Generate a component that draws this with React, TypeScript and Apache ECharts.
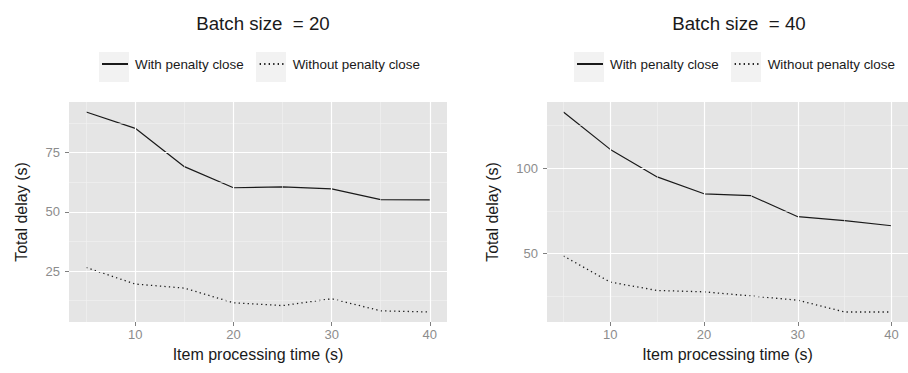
import React, { useEffect, useRef } from "react";
import * as echarts from "echarts";

const xValues = [5, 10, 15, 20, 25, 30, 35, 40];
const withPenalty20 = [92.2, 85.3, 69.1, 60.2, 60.6, 59.7, 55.2, 55.1];
const withoutPenalty20 = [26.5, 19.5, 17.8, 11.6, 10.4, 13.3, 8.2, 7.7];
const withPenalty40 = [132.9, 111.0, 94.9, 85.0, 83.9, 71.6, 69.3, 66.3];
const withoutPenalty40 = [48.6, 33.3, 28.4, 27.6, 25.2, 22.7, 15.8, 15.8];
const xTicks = [10, 20, 30, 40];
const xMinor = [5, 15, 25, 35];
const yTicks20 = [25, 50, 75];
const yMinor20 = [12.5, 37.5, 62.5, 87.5];
const yTicks40 = [50, 100];
const yMinor40 = [25, 75, 125];
const seriesNames = ["With penalty close", "Without penalty close"];
const panelTitles = ["Batch size  = 20", "Batch size  = 40"];
const xTitle = "Item processing time (s)";
const yTitle = "Total delay (s)";

const FONT = "'Liberation Sans', Arial, Helvetica, sans-serif";
const LINE = "#1a1a1a";

function expand(vals: number[]) {
  const mn = Math.min(...vals);
  const mx = Math.max(...vals);
  const pad = (mx - mn) * 0.05;
  return { min: mn - pad, max: mx + pad };
}

const pair = (xs: number[], ys: number[]) => xs.map((x, i) => [x, ys[i]]);

export default function App() {
  const ref = useRef<HTMLDivElement>(null);
  useEffect(() => {
    if (!ref.current) return;
    const chart = echarts.init(ref.current, undefined, { renderer: "svg" });
    const xr = expand(xValues);
    const y20 = expand([...withPenalty20, ...withoutPenalty20]);
    const y40 = expand([...withPenalty40, ...withoutPenalty40]);

    const grids = [
      { left: 69, top: 102, width: 378, height: 220 },
      { left: 547, top: 102, width: 374, height: 220 },
    ];
    const yRanges = [y20, y40];
    const yTicks = [yTicks20, yTicks40];
    const yMinors = [yMinor20, yMinor40];
    const yNameGaps = [40, 47];
    const seriesData = [
      [withPenalty20, withoutPenalty20],
      [withPenalty40, withoutPenalty40],
    ];

    const xAxes = grids.map((_, i) => ({
      type: "value",
      gridIndex: i,
      min: xr.min,
      max: xr.max,
      name: xTitle,
      nameLocation: "middle",
      nameGap: 24,
      nameTextStyle: { fontFamily: FONT, fontSize: 16, color: "#1a1a1a" },
      axisLine: { show: false },
      splitLine: { show: false },
      axisTick: { show: true, customValues: xTicks, length: 4, lineStyle: { color: "#7f7f7f", width: 1 } },
      axisLabel: { customValues: xTicks, color: "#8c8c8c", fontSize: 13, fontFamily: FONT, margin: 6 },
    }));
    const yAxes = grids.map((_, i) => ({
      type: "value",
      gridIndex: i,
      min: yRanges[i].min,
      max: yRanges[i].max,
      name: yTitle,
      nameLocation: "middle",
      nameGap: yNameGaps[i],
      nameTextStyle: { fontFamily: FONT, fontSize: 16, color: "#1a1a1a" },
      axisLine: { show: false },
      splitLine: { show: false },
      axisTick: { show: true, customValues: yTicks[i], length: 4, lineStyle: { color: "#7f7f7f", width: 1 } },
      axisLabel: { customValues: yTicks[i], color: "#8c8c8c", fontSize: 13, fontFamily: FONT, margin: 9 },
    }));

    const series: any[] = [];
    grids.forEach((_, i) => {
      const minor = { color: "#f2f2f2", width: 0.6, type: "solid" };
      const major = { color: "#ffffff", width: 1.2, type: "solid" };
      series.push({
        type: "line",
        name: "grid" + i,
        xAxisIndex: i,
        yAxisIndex: i,
        data: [],
        silent: true,
        z: 1,
        markLine: {
          silent: true,
          symbol: ["none", "none"],
          label: { show: false },
          emphasis: { disabled: true },
          data: [
            ...xMinor.map((v) => ({ xAxis: v, lineStyle: minor })),
            ...yMinors[i].map((v) => ({ yAxis: v, lineStyle: minor })),
            ...xTicks.map((v) => ({ xAxis: v, lineStyle: major })),
            ...yTicks[i].map((v) => ({ yAxis: v, lineStyle: major })),
          ],
        },
      });
      series.push({
        type: "line",
        name: seriesNames[0],
        xAxisIndex: i,
        yAxisIndex: i,
        data: pair(xValues, seriesData[i][0]),
        symbol: "none",
        z: 3,
        lineStyle: { color: LINE, width: 1.2, type: "solid" },
        itemStyle: { color: LINE },
      });
      series.push({
        type: "line",
        name: seriesNames[1],
        xAxisIndex: i,
        yAxisIndex: i,
        data: pair(xValues, seriesData[i][1]),
        symbol: "none",
        z: 3,
        lineStyle: { color: LINE, width: 1.3, type: [1.3, 3.2] },
        itemStyle: { color: LINE },
      });
    });

    const legendLefts = [101, 576];
    const keyBoxes = [99, 256, 574, 731];

    chart.setOption({
      animation: false,
      backgroundColor: "#ffffff",
      title: grids.map((g, i) => ({
        text: panelTitles[i],
        left: g.left + g.width / 2,
        top: 8.5,
        textAlign: "center",
        textStyle: { fontFamily: FONT, fontSize: 18.7, fontWeight: "normal", color: "#1a1a1a" },
      })),
      grid: grids.map((g) => ({
        ...g,
        show: true,
        backgroundColor: "#e5e5e5",
        borderWidth: 0,
        containLabel: false,
      })),
      graphic: keyBoxes.map((x) => ({
        type: "rect",
        shape: { x, y: 52, width: 30, height: 30 },
        style: { fill: "#f2f2f2" },
        z: 0,
        silent: true,
      })),
      legend: legendLefts.map((l) => ({
        left: l,
        top: 52,
        padding: 0,
        itemWidth: 26,
        itemHeight: 30,
        itemGap: 15,
        data: seriesNames,
        selectedMode: false,
        itemStyle: { opacity: 0, borderWidth: 0, color: "rgba(0,0,0,0)" },
        lineStyle: { color: LINE },
        textStyle: { fontFamily: FONT, fontSize: 13.4, color: "#1a1a1a", padding: [0, 0, 0, 2] },
      })),
      xAxis: xAxes,
      yAxis: yAxes,
      series,
    } as any);
    return () => chart.dispose();
  }, []);
  return (
    <div
      ref={ref}
      style={{ position: "absolute", left: 0, top: 0, width: 908, height: 373 }}
    />
  );
}
